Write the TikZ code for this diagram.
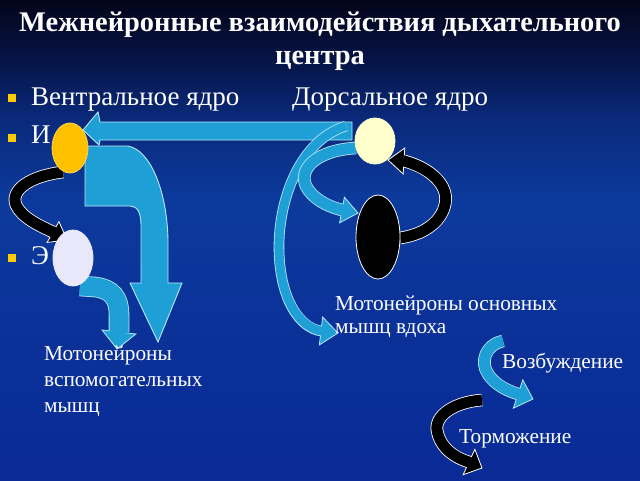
\documentclass[tikz,border=0pt]{standalone}
\usepackage{fontspec}
\setmainfont{Liberation Serif}
\usetikzlibrary{calc,shapes.geometric}
\definecolor{bgA}{HTML}{0A2A96}
\definecolor{bgB}{HTML}{0B3399}
\definecolor{bgC}{HTML}{0C3A9C}
\definecolor{bgD}{HTML}{0A2A7C}
\definecolor{bgE}{HTML}{061446}
\definecolor{bgF}{HTML}{03051A}
\definecolor{cy}{HTML}{1E9FD5}
\definecolor{cyl}{HTML}{B8E8F8}
\definecolor{bul}{HTML}{FFCC00}
\definecolor{yel}{HTML}{FFC000}
\definecolor{lav}{HTML}{E8E8FA}
\definecolor{pale}{HTML}{FFFFCC}
\pgfdeclareverticalshading{bgshade}{100bp}{color(0bp)=(bgA); color(25bp)=(bgA); color(43.75bp)=(bgB); color(54.2bp)=(bgC); color(62.5bp)=(bgD); color(68.75bp)=(bgE); color(75bp)=(bgF); color(100bp)=(bgF)}
\newcommand\ribarrow[7]{%
  \draw[#2, line width=#3pt+1.6pt] #4 (#5);
  \filldraw[fill=#1, draw=#2, line width=0.8pt, line join=miter] ($(#5)!#7pt!90:(#6)$) -- (#6) -- ($(#5)!#7pt!-90:(#6)$) -- cycle;
  \draw[#1, line width=#3pt, shorten >=-1.2pt] #4 (#5);
}
\tikzset{
  txt/.style={text=white, inner sep=0pt, anchor=base west, font=\fontsize{27}{30}\selectfont},
  ttl/.style={text=white, inner sep=0pt, anchor=base, font=\bfseries\fontsize{28.4}{32}\selectfont},
  lbl/.style={text=white, inner sep=0pt, anchor=base west, font=\fontsize{21.3}{24}\selectfont},
  bulletsq/.style={fill=bul, minimum size=8pt, inner sep=0pt},
  neuron/.style={ellipse, inner sep=0pt, draw=#1, line width=0.8pt},
  bigarrow/.style={fill=cy, draw=cyl, line width=0.9pt, line join=miter},
}
\begin{document}
\begin{tikzpicture}[x=1pt,y=-1pt]
\useasboundingbox (0,0) rectangle (640,480);
\shade[shading=bgshade] (0,0) rectangle (640,480);

% title
\node[ttl] (t1) at (320,31) {Межнейронные взаимодействия дыхательного};
\node[ttl] (t2) at (320,64) {центра};

% bullets and list text
\node[bulletsq] (b1) at (12,98) {};
\node[bulletsq] (b2) at (12,138) {};
\node[bulletsq] (b3) at (12,258) {};
\node[txt] (ventral) at (31,105) {Вентральное ядро};
\node[txt] (dorsal) at (292,105) {Дорсальное ядро};
\node[txt] (iLbl) at (31,143) {И};
\node[txt] (eLbl) at (31,264) {Э};

% named end points
\coordinate (hTip) at (83,130);
\coordinate (bkLb) at (53,232);  \coordinate (bkLt) at (67,240);
\coordinate (smB) at (119,332);  \coordinate (smT) at (117,349);
\coordinate (thB) at (321,331);  \coordinate (thT) at (338,333);
\coordinate (inB) at (342,210);  \coordinate (inT) at (358,213);
\coordinate (bkRb) at (404,161); \coordinate (bkRt) at (388,160);
\coordinate (lgCb) at (518,394); \coordinate (lgCt) at (533,399);
\coordinate (lgKb) at (469,462); \coordinate (lgKt) at (482,468);

% big horizontal arrow: dorsal -> I
\filldraw[bigarrow] (352,122) -- (100,122) -- (98,112) -- (hTip) -- (99,145) -- (100,140) -- (352,140) -- cycle;

% big bent arrow from I down
\filldraw[bigarrow] (85,146) -- (128,146) .. controls (150,150) and (167,190) .. (168,240) -- (168,283) -- (182,283) -- (158,342) -- (130,283) -- (141,283) -- (141,225) .. controls (141,212) and (137,206) .. (130,206) -- (85,206) -- cycle;

% thin big arrow dorsal -> motoneurons
\ribarrow{cy}{cyl}{9}{(346,126) .. controls (300,140) and (278,200) .. (279,250) .. controls (280,300) and (300,328) ..}{thB}{thT}{14}

% inner cyan arrow dorsal -> black
\ribarrow{cy}{cyl}{11}{(356,148) .. controls (318,150) and (298,168) .. (306,186) .. controls (312,198) and (326,206) ..}{inB}{inT}{13}

% black arrow back to dorsal
\ribarrow{black}{white}{11}{(400,238) .. controls (440,232) and (450,205) .. (444,190) .. controls (438,175) and (420,165) ..}{bkRb}{bkRt}{13}

% black arrow I -> E
\ribarrow{black}{white}{11}{(63,172) .. controls (30,176) and (10,190) .. (16,205) .. controls (22,218) and (40,226) ..}{bkLb}{bkLt}{12}

% small cyan arrow from E
\ribarrow{cy}{cyl}{19}{(80,286) -- (95,287) .. controls (112,289) and (119,298) .. (119,315) --}{smB}{smT}{17}

% legend arrows
\ribarrow{cy}{cyl}{11}{(503,341) .. controls (485,345) and (480,362) .. (488,374) .. controls (495,385) and (508,391) ..}{lgCb}{lgCt}{15}
\ribarrow{black}{white}{11}{(482,400) .. controls (455,402) and (435,415) .. (437,430) .. controls (440,448) and (455,458) ..}{lgKb}{lgKt}{14}

% neurons
\node[neuron=yel!70!white, fill=yel, minimum width=36pt, minimum height=50pt] (I) at (70,148) {};
\node[neuron=lav, fill=lav, minimum width=40pt, minimum height=56pt] (E) at (73,258) {};
\node[neuron=pale, fill=pale, minimum width=40pt, minimum height=46pt] (D) at (375,141) {};
\node[neuron=white, fill=black, minimum width=44pt, minimum height=84pt] (B) at (378,237) {};

% labels
\node[lbl] (m1) at (335,310) {Мотонейроны основных};
\node[lbl] (m2) at (335,333) {мышц вдоха};
\node[lbl] (a1) at (44,360) {Мотонейроны};
\node[lbl] (a2) at (44,386) {вспомогательных};
\node[lbl] (a3) at (44,412) {мышц};
\node[lbl] (exc) at (502,368) {Возбуждение};
\node[lbl] (inh) at (459,443) {Торможение};
\end{tikzpicture}
\end{document}
